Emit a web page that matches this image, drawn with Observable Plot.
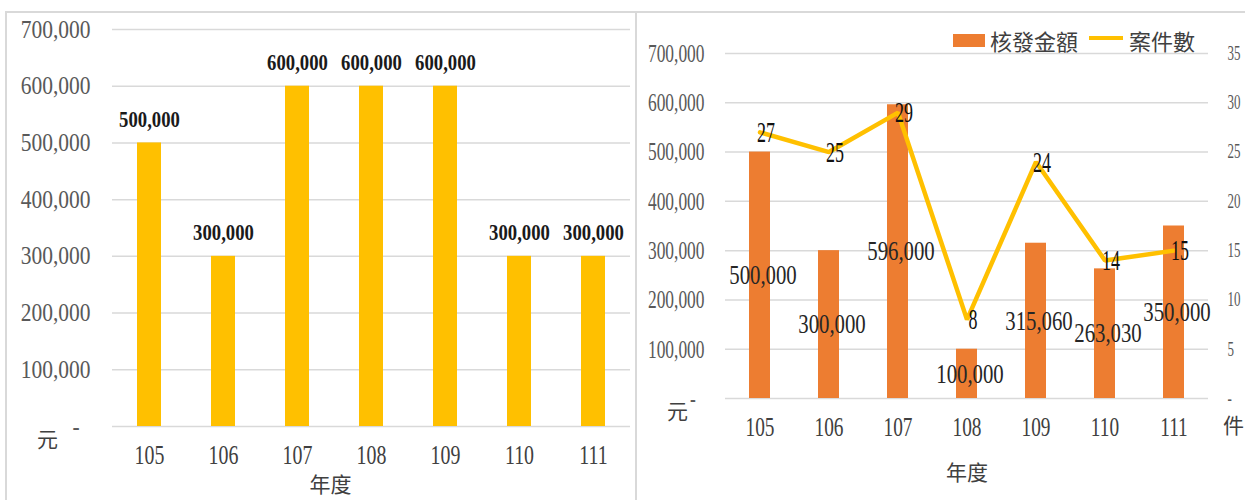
<!DOCTYPE html>
<html>
<head>
<meta charset="utf-8">
<script src="https://cdn.jsdelivr.net/npm/d3@7"></script>
<script src="https://cdn.jsdelivr.net/npm/@observablehq/plot@0.6"></script>
<style>
  html, body { margin: 0; padding: 0; background: #fff; }
  #wrap { position: relative; width: 1245px; height: 500px; overflow: hidden; background: #fff; }
  .chart { position: absolute; top: 0; }
  .frame { position: absolute; box-sizing: border-box; border: 2px solid #d9d9d9; z-index: 5; pointer-events: none; }
  #legend { position: absolute; left: 953px; top: 25px; height: 30px; display: flex; align-items: center;
            font-family: "Noto Sans CJK TC", sans-serif; font-size: 22px; color: #404040; z-index: 6; }
  #legend .sw { width: 32px; height: 13px; background: #ED7D31; margin-right: 5px; }
  #legend .ln { width: 34px; height: 4px; background: #FFC000; margin-left: 11px; margin-right: 6px; margin-top: -4px; }
  #legend span { line-height: 30px; }
</style>
</head>
<body>
<div id="wrap">
  <div id="left" class="chart" style="left:0px"></div>
  <div id="right" class="chart" style="left:637px"></div>
  <div class="frame" style="left:5px; top:11px; width:632px; height:500px"></div>
  <div class="frame" style="left:635px; top:11px; width:620px; height:500px"></div>
  <div id="legend"><div class="sw"></div><span>核發金額</span><div class="ln"></div><span>案件數</span></div>
</div>
<script>
// ---- data ----
const years = ["105", "106", "107", "108", "109", "110", "111"];
const leftAmounts = [500000, 300000, 600000, 600000, 600000, 300000, 300000];
const rightAmounts = [500000, 300000, 596000, 100000, 315060, 263030, 350000];
const caseCounts = [27, 25, 29, 8, 24, 14, 15];
const amountTicks = [0, 100000, 200000, 300000, 400000, 500000, 600000, 700000];
const caseTicks = [0, 5, 10, 15, 20, 25, 30, 35];
const xTitle = "年度";
const yUnitLeft = "元";
const yUnitRight = "件";

// ---- helpers ----
const num = d3.format(",");
const amountFmt = d => d === 0 ? "-\u00a0\u00a0" : num(d);
const ratio = 700000 / 35;   // right axis (cases) mapped onto the amount scale
const serif = "'Liberation Serif', 'Times New Roman', serif";
const cjk = "'Noto Sans CJK TC', sans-serif";

const leftData = years.map((y, i) => ({year: y, value: leftAmounts[i]}));
const rightData = years.map((y, i) => ({year: y, value: rightAmounts[i], cases: caseCounts[i]}));

// narrow the serif digits (the original uses a condensed Ming-style face)
function condense(svg, widths) {
  svg.querySelectorAll("g[font-size]").forEach(g => {
    const ff = g.getAttribute("font-family") || "";
    if (ff.includes("Noto")) return;
    const k = widths[g.getAttribute("font-size")];
    if (!k) return;
    g.querySelectorAll("text").forEach(t => {
      const tr = t.getAttribute("transform");
      if (tr) t.setAttribute("transform", tr + ` scale(${k},1)`);
      else {
        const x = +(t.getAttribute("x") || 0), y = +(t.getAttribute("y") || 0);
        t.removeAttribute("x"); t.removeAttribute("y");
        t.setAttribute("transform", `translate(${x},${y}) scale(${k},1)`);
      }
    });
  });
}

// ---- left chart ----
const left = Plot.plot({
  width: 636, height: 500,
  marginLeft: 112, marginRight: 6, marginTop: 29, marginBottom: 74,
  style: {fontFamily: serif, fontSize: "22px", background: "transparent", overflow: "visible"},
  x: {domain: years, paddingInner: 0.68, paddingOuter: 0.34},
  y: {domain: [0, 700000]},
  marks: [
    Plot.gridY(amountTicks, {stroke: "#d9d9d9", strokeOpacity: 1, strokeWidth: 1.5}),
    Plot.barY(leftData, {x: "year", y: "value", fill: "#FFC000"}),
    Plot.text(leftData, {x: "year", y: "value", text: d => num(d.value), dy: -24,
      fontWeight: "bold", fontSize: 24, fill: "#1a1a1a"}),
    Plot.axisY(amountTicks, {anchor: "left", tickSize: 0, tickPadding: 22, tickFormat: amountFmt,
      fontSize: 25, fill: "#595959", label: null}),
    Plot.axisX({anchor: "bottom", tickSize: 0, tickPadding: 18, fontSize: 28, fill: "#404040", label: null}),
    Plot.text([xTitle], {frameAnchor: "bottom", lineAnchor: "middle", textAnchor: "middle",
      dx: -41, dy: 59, fontFamily: cjk, fontSize: 21, fill: "#404040"}),
    Plot.text([yUnitLeft], {frameAnchor: "bottom-left", lineAnchor: "middle", textAnchor: "middle",
      dx: -65, dy: 14, fontFamily: cjk, fontSize: 21, fill: "#404040"})
  ]
});
condense(left, {"25": 0.86, "28": 0.71, "24": 0.78});
document.getElementById("left").appendChild(left);

// ---- right chart ----
const right = Plot.plot({
  width: 608, height: 500,
  marginLeft: 88, marginRight: 37, marginTop: 53, marginBottom: 102,
  style: {fontFamily: serif, fontSize: "22px", background: "transparent", overflow: "visible"},
  x: {domain: years, paddingInner: 0.7, paddingOuter: 0.35},
  y: {domain: [0, 700000]},
  marks: [
    Plot.gridY(amountTicks, {stroke: "#d9d9d9", strokeOpacity: 1, strokeWidth: 1.5}),
    Plot.barY(rightData, {x: "year", y: "value", fill: "#ED7D31"}),
    Plot.line(rightData, {x: "year", y: d => d.cases * ratio, stroke: "#FFC000", strokeWidth: 4.5,
      strokeLinejoin: "miter"}),
    Plot.text(rightData, {x: "year", y: d => d.value / 2, text: d => num(d.value), dx: 3,
      fontSize: 27, fill: "#262626"}),
    Plot.text(rightData, {x: "year", y: d => d.cases * ratio, text: d => String(d.cases), dx: 6,
      fontSize: 30, fill: "#111"}),
    Plot.axisY(amountTicks, {anchor: "left", tickSize: 0, tickPadding: 21, tickFormat: amountFmt,
      fontSize: 26, fill: "#595959", label: null}),
    Plot.axisY(caseTicks.map(c => c * ratio), {anchor: "right", tickSize: 0, tickPadding: 19,
      tickFormat: d => d === 0 ? "-" : String(d / ratio), fontSize: 20, fill: "#595959", label: null}),
    Plot.axisX({anchor: "bottom", tickSize: 0, tickPadding: 18, fontSize: 28, fill: "#404040", label: null}),
    Plot.text([xTitle], {frameAnchor: "bottom", lineAnchor: "middle", textAnchor: "middle",
      dx: 0, dy: 75, fontFamily: cjk, fontSize: 21, fill: "#404040"}),
    Plot.text([yUnitLeft], {frameAnchor: "bottom-left", lineAnchor: "middle", textAnchor: "middle",
      dx: -48, dy: 14, fontFamily: cjk, fontSize: 21, fill: "#404040"}),
    Plot.text([yUnitRight], {frameAnchor: "bottom-right", lineAnchor: "middle", textAnchor: "middle",
      dx: 25, dy: 28, fontFamily: cjk, fontSize: 21, fill: "#404040"})
  ]
});
condense(right, {"26": 0.67, "20": 0.65, "28": 0.69, "27": 0.77, "30": 0.6});
document.getElementById("right").appendChild(right);
</script>
</body>
</html>
